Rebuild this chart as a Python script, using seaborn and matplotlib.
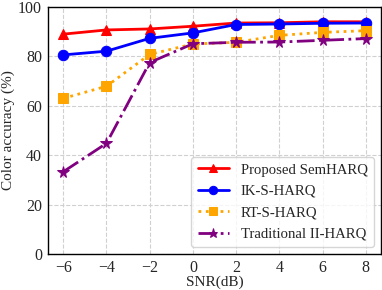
import numpy as np
import pandas as pd
import matplotlib
matplotlib.use("Agg")
import matplotlib.pyplot as plt
import seaborn as sns

snr = [-6, -4, -2, 0, 2, 4, 6, 8]
semharq = [89.0, 90.7, 91.1, 92.2, 93.5, 93.6, 94.0, 94.0]
ik_harq = [80.6, 82.1, 87.3, 89.5, 92.9, 93.1, 93.4, 93.5]
rt_harq = [63.0, 67.9, 80.8, 85.0, 85.7, 88.5, 89.7, 90.4]
trad_harq = [33.3, 44.8, 77.5, 85.1, 85.7, 85.8, 86.5, 87.2]

labels = ["Proposed SemHARQ", "IK-S-HARQ", "RT-S-HARQ", "Traditional II-HARQ"]
colors = ["red", "blue", "orange", "purple"]
markers = ["^", "o", "s", "*"]
styles = ["-", "-", ":", "-."]

sns.set_theme(style="whitegrid")
plt.rcParams['font.family'] = ['Liberation Serif', 'DejaVu Serif']

fig, ax = plt.subplots(figsize=(3.82, 2.9), dpi=100)
fig.subplots_adjust(left=0.126, right=0.997, bottom=0.124, top=0.976)

for vals, lab, c, m, ls in zip([semharq, ik_harq, rt_harq, trad_harq], labels, colors, markers, styles):
    df = pd.DataFrame({"snr": snr, "acc": vals})
    sns.lineplot(data=df, x="snr", y="acc", ax=ax, color=c, marker=m, linestyle=ls,
                 linewidth=2, markersize=7.5 if m != "*" else 8.5, markeredgecolor=c, label=lab)

ax.set_ylim(0, 100)
ax.set_xticks(snr)
ax.set_yticks([0, 20, 40, 60, 80, 100])
ax.set_xlabel("SNR(dB)", fontsize=11, labelpad=0)
ax.set_ylabel("Color accuracy (%)", fontsize=11, labelpad=2)
ax.tick_params(labelsize=11.5, length=3, width=0.8, pad=1.5, color="black")
ax.tick_params(axis="x", pad=1)
ax.grid(True, linestyle="--", color="#d0d0d0", linewidth=0.8)
for s in ax.spines.values():
    s.set_color("black")
    s.set_linewidth(1.0)
leg = ax.legend(loc="lower right", fontsize=10.6, frameon=True, handlelength=2.1,
                borderpad=0.45, labelspacing=0.55, markerscale=0.8, borderaxespad=0.45)
leg.get_frame().set_edgecolor("#cccccc")

fig.savefig("out.png", dpi=100)
